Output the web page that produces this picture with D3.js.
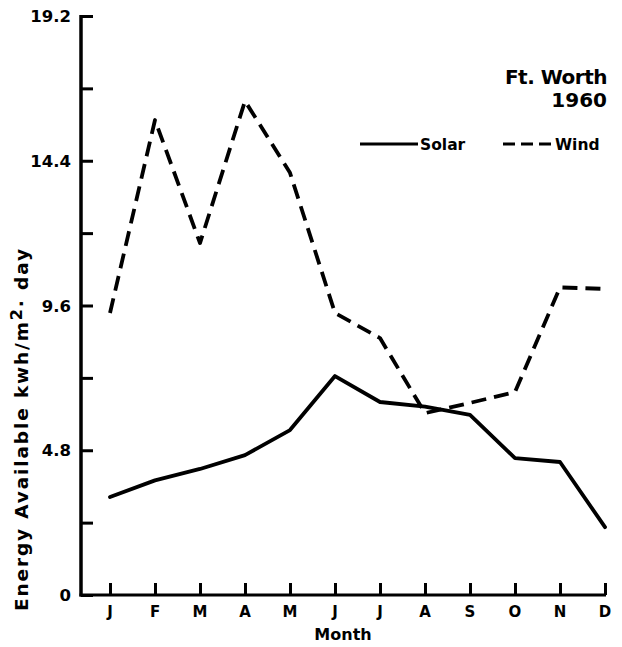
<!DOCTYPE html>
<html><head><meta charset="utf-8">
<script src="https://cdn.jsdelivr.net/npm/d3@7"></script>
<style>
body{margin:0;background:#fff;}
text{font-family:"DejaVu Sans",sans-serif;font-weight:bold;fill:#000;}
</style></head>
<body><svg id="c" width="622" height="647"></svg>
<script>
const months = ["J","F","M","A","M","J","J","A","S","O","N","D"];
const solar = [3.25, 3.8, 4.18, 4.64, 5.47, 7.26, 6.4, 6.25, 5.97, 4.54, 4.41, 2.25];
const wind  = [9.35, 15.75, 11.67, 16.38, 14.0, 9.35, 8.52, 6.03, 6.37, 6.73, 10.2, 10.15];
const yMajorTicks = [0, 4.8, 9.6, 14.4, 19.2];
const yMinorTicks = [2.4, 7.2, 12.0, 16.8];

const svg = d3.select("#c");
const idx = d3.range(months.length);
const x = d3.scalePoint().domain(idx).range([110, 605]);
const y = d3.scaleLinear().domain([0, 19.2]).range([595, 16]);
const x0 = 81;

// y axis
const yAxis = d3.axisRight(y).tickValues(yMajorTicks.concat(yMinorTicks)).tickSize(12).tickFormat("");
const gy = svg.append("g").attr("transform", `translate(${x0},0)`).call(yAxis);
gy.select(".domain").remove();
gy.selectAll(".tick line").attr("stroke", "#000").attr("stroke-width", 3);
svg.append("line").attr("x1", x0).attr("x2", x0).attr("y1", y(19.2) - 1).attr("y2", y(0) + 1.5)
  .attr("stroke", "#000").attr("stroke-width", 3.5);
svg.selectAll(".ylab").data(yMajorTicks).enter().append("text")
  .attr("x", 71).attr("y", d => y(d) + 6).attr("text-anchor", "end")
  .style("font-size", "16.5px").text(d => d === 0 ? "0" : d.toFixed(1));

// x axis
const xAxis = d3.axisTop(x).tickSize(12).tickFormat("");
const gx = svg.append("g").attr("transform", `translate(0,${y(0)})`).call(xAxis);
gx.select(".domain").remove();
gx.selectAll(".tick line").attr("stroke", "#000").attr("stroke-width", 3);
svg.append("line").attr("x1", x0 - 1.5).attr("x2", 606).attr("y1", y(0)).attr("y2", y(0))
  .attr("stroke", "#000").attr("stroke-width", 3);
svg.selectAll(".xlab").data(idx).enter().append("text")
  .attr("x", d => x(d)).attr("y", 617).attr("text-anchor", "middle")
  .style("font-size", "15px").text(d => months[d]);

svg.append("text").attr("x", 343).attr("y", 640).attr("text-anchor", "middle")
  .style("font-size", "16px").text("Month");

const yt = svg.append("text").attr("transform", "translate(28,430) rotate(-90)")
  .attr("text-anchor", "middle").style("font-size", "18.5px")
  .attr("textLength", 362).attr("lengthAdjust", "spacing");
yt.append("tspan").text("Energy Available  kwh/m");
yt.append("tspan").attr("dy", -6).style("font-size", "16px").text("2");
yt.append("tspan").attr("dy", 6).text("· day");

// lines
const line = d3.line().x((d, i) => x(i)).y(d => y(d));
svg.append("path").datum(solar).attr("d", line).attr("fill", "none")
  .attr("stroke", "#000").attr("stroke-width", 3.8).attr("stroke-linejoin", "round").attr("stroke-linecap", "round");
svg.append("path").datum(wind).attr("d", line).attr("fill", "none")
  .attr("stroke", "#000").attr("stroke-width", 3.8).attr("stroke-dasharray", "15,8")
  .attr("stroke-linejoin", "round");

// title
svg.append("text").attr("x", 607).attr("y", 84).attr("text-anchor", "end")
  .style("font-size", "20px").style("letter-spacing", "-0.5px").text("Ft. Worth");
svg.append("text").attr("x", 607).attr("y", 107).attr("text-anchor", "end")
  .style("font-size", "20px").text("1960");

// legend
svg.append("line").attr("x1", 360).attr("x2", 418).attr("y1", 144).attr("y2", 144)
  .attr("stroke", "#000").attr("stroke-width", 3);
svg.append("text").attr("x", 420).attr("y", 150).style("font-size", "15.5px").text("Solar");
svg.append("line").attr("x1", 503).attr("x2", 553).attr("y1", 144).attr("y2", 144)
  .attr("stroke", "#000").attr("stroke-width", 3).attr("stroke-dasharray", "12,6");
svg.append("text").attr("x", 555).attr("y", 150).style("font-size", "15.5px").text("Wind");
</script></body></html>
